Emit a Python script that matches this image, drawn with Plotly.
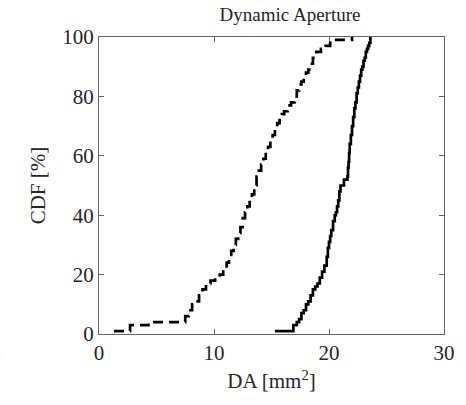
import plotly.graph_objects as go

dash_x = [1.3, 2.7, 4.3, 7.5, 7.8, 8.1, 8.4, 8.7, 9.0, 9.3,
          9.7, 10.1, 10.5, 10.8, 11.1, 11.3, 11.5, 11.7, 11.9, 12.1,
          12.3, 12.5, 12.7, 12.9, 13.1, 13.3, 13.5, 13.7, 13.9, 14.1,
          14.3, 14.5, 14.7, 14.9, 15.1, 15.3, 15.5, 15.7, 15.9, 16.1,
          16.4, 16.7, 17.0, 17.2, 17.4, 17.6, 17.8, 18.0, 18.2, 18.4,
          18.6, 18.9, 19.3, 19.7, 20.1, 22.0]
dash_y = [1, 3, 4, 6, 8, 10, 11, 13, 15, 17,
          18, 19, 20, 22, 24, 26, 28, 30, 32, 34,
          36, 39, 41, 43, 45, 47, 50, 53, 55, 57,
          59, 61, 63, 65, 67, 69, 71, 72, 74, 75,
          77, 78, 80, 82, 84, 85, 87, 88, 89, 91,
          93, 95, 96, 97, 99, 100]

# Solid curve (empirical CDF)
solid_x = [15.3, 16.9, 17.2, 17.4, 17.6, 17.8, 18.0, 18.2, 18.4, 18.6,
           18.8, 19.0, 19.2, 19.4, 19.6, 19.8, 19.9, 20.0, 20.1, 20.2,
           20.35, 20.5, 20.6, 20.7, 20.8, 20.9, 21.0, 21.3, 21.6, 21.65,
           21.7, 21.75, 21.8, 21.9, 22.0, 22.1, 22.2, 22.3, 22.4, 22.5,
           22.6, 22.7, 22.8, 22.9, 23.0, 23.1, 23.2, 23.3, 23.4, 23.5,
           23.6]
solid_y = [1, 3, 4, 5, 7, 8, 10, 11, 13, 15,
           16, 17, 19, 21, 23, 26, 29, 31, 33, 35,
           38, 40, 41, 43, 45, 48, 50, 52, 53, 56,
           58, 61, 64, 67, 70, 73, 76, 78, 81, 83,
           85, 87, 89, 90, 92, 93, 95, 96, 97, 98,
           100]

x_ticks = [0, 10, 20, 30]
y_ticks = [0, 20, 40, 60, 80, 100]

FONT = "Liberation Serif, serif"
TXT = "#262626"
AX = "#666666"

fig = go.Figure()
fig.add_trace(go.Scatter(x=dash_x, y=dash_y, mode="lines",
                         line=dict(color="black", width=2.7, dash="10px,6px", shape="hv"),
                         showlegend=False))
fig.add_trace(go.Scatter(x=solid_x, y=solid_y, mode="lines",
                         line=dict(color="black", width=2.7, shape="hv"),
                         showlegend=False))

axis_common = dict(showgrid=False, zeroline=False, showline=True, linecolor=AX,
                   linewidth=1, mirror="ticks", ticks="inside", ticklen=5,
                   tickcolor=AX, tickwidth=1,
                   tickfont=dict(family=FONT, size=21, color=TXT))

fig.update_xaxes(range=[0, 30], tickvals=x_ticks, ticktext=[str(v) for v in x_ticks],
                 title=dict(text="DA [mm<sup>2</sup>]", font=dict(family=FONT, size=21, color=TXT),
                            standoff=9),
                 **axis_common)
fig.update_yaxes(range=[0, 100], tickvals=y_ticks, ticktext=[str(v) for v in y_ticks],
                 title=dict(text="CDF [%]", font=dict(family=FONT, size=21, color=TXT),
                            standoff=10),
                 **axis_common)

fig.update_layout(
    width=466, height=405,
    font=dict(family=FONT, color=TXT),
    margin=dict(l=99, r=22, t=37, b=71, autoexpand=False),
    paper_bgcolor="white", plot_bgcolor="white",
    title=dict(text="Dynamic Aperture", x=290 / 466, xanchor="center",
               y=1 - 14 / 405, yanchor="middle",
               font=dict(family=FONT, size=19, color=TXT)),
    annotations=[dict(text="0", xref="paper", yref="paper", x=-0.30, y=-0.07,
                      xanchor="center", yanchor="middle", showarrow=False,
                      font=dict(family=FONT, size=21, color=TXT))],
)

fig.write_html("out.html")
